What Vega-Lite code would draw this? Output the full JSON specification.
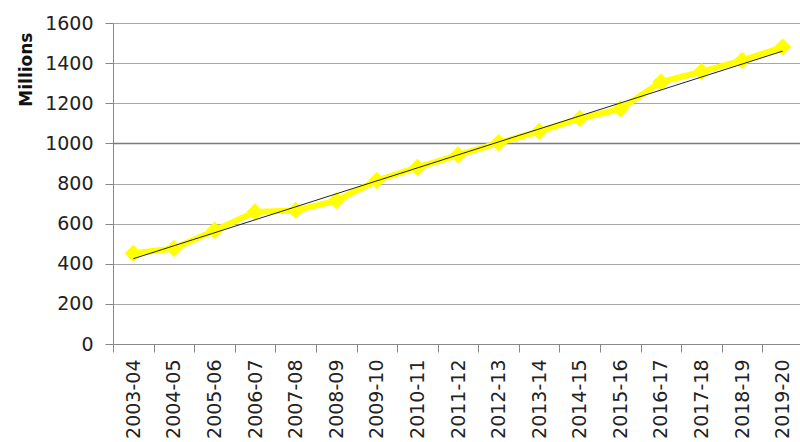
{
  "$schema": "https://vega.github.io/schema/vega-lite/v6.json",
  "autosize": "none",
  "width": 690,
  "height": 321,
  "padding": {"left": 113, "top": 23, "right": 0, "bottom": 98},
  "background": "white",
  "config": {
    "view": {"stroke": null},
    "axis": {"labelFont": "DejaVu Sans", "titleFont": "DejaVu Sans", "labelColor": "#222222", "titleColor": "#111111"}
  },
  "datasets": {
    "series": [
      {"year": "2003-04", "value": 452},
      {"year": "2004-05", "value": 476},
      {"year": "2005-06", "value": 566},
      {"year": "2006-07", "value": 658},
      {"year": "2007-08", "value": 666},
      {"year": "2008-09", "value": 715},
      {"year": "2009-10", "value": 815},
      {"year": "2010-11", "value": 880},
      {"year": "2011-12", "value": 942},
      {"year": "2012-13", "value": 1003},
      {"year": "2013-14", "value": 1060},
      {"year": "2014-15", "value": 1124},
      {"year": "2015-16", "value": 1172},
      {"year": "2016-17", "value": 1306},
      {"year": "2017-18", "value": 1358},
      {"year": "2018-19", "value": 1414},
      {"year": "2019-20", "value": 1480}
    ],
    "trend": [
      {"year": "2003-04", "value": 425},
      {"year": "2019-20", "value": 1460}
    ],
    "ref": [{"value": 1000}]
  },
  "encoding": {
    "x": {
      "field": "year", "type": "ordinal",
      "scale": {"type": "band", "paddingInner": 0, "paddingOuter": 0,
        "domain": ["2003-04","2004-05","2005-06","2006-07","2007-08","2008-09","2009-10","2010-11","2011-12","2012-13","2013-14","2014-15","2015-16","2016-17","2017-18","2018-19","2019-20"]},
      "axis": {"title": null, "tickBand": "extent", "labelAngle": -90, "labelFontSize": 19, "labelPadding": 7, "tickSize": 8, "tickColor": "#888888", "domainColor": "#888888", "grid": false, "labelAlign": "right", "labelBaseline": "middle"}
    },
    "y": {
      "field": "value", "type": "quantitative",
      "scale": {"domain": [0, 1600]},
      "axis": {"title": "Millions", "format": "d", "titleFontSize": 17, "titleFontWeight": "bold", "titleAnchor": "end", "titleAngle": -90, "titlePadding": 9, "titleY": 9, "values": [0,200,400,600,800,1000,1200,1400,1600], "labelFontSize": 19, "labelPadding": 12, "tickSize": 8, "tickColor": "#888888", "domainColor": "#888888", "gridColor": "#a6a6a6", "gridWidth": 1}
    }
  },
  "layer": [
    {"data": {"name": "ref"}, "mark": {"type": "rule", "color": "#7a7a7a", "strokeWidth": 1.5}, "encoding": {"y": {"field": "value", "type": "quantitative"}, "x": null}},
    {"data": {"name": "series"}, "mark": {"type": "line", "color": "#ffff00", "strokeWidth": 6}},
    {"data": {"name": "series"}, "mark": {"type": "point", "shape": "diamond", "filled": true, "color": "#ffff00", "opacity": 1, "size": 300}},
    {"data": {"name": "trend"}, "mark": {"type": "line", "color": "#222222", "strokeWidth": 1}}
  ]
}
